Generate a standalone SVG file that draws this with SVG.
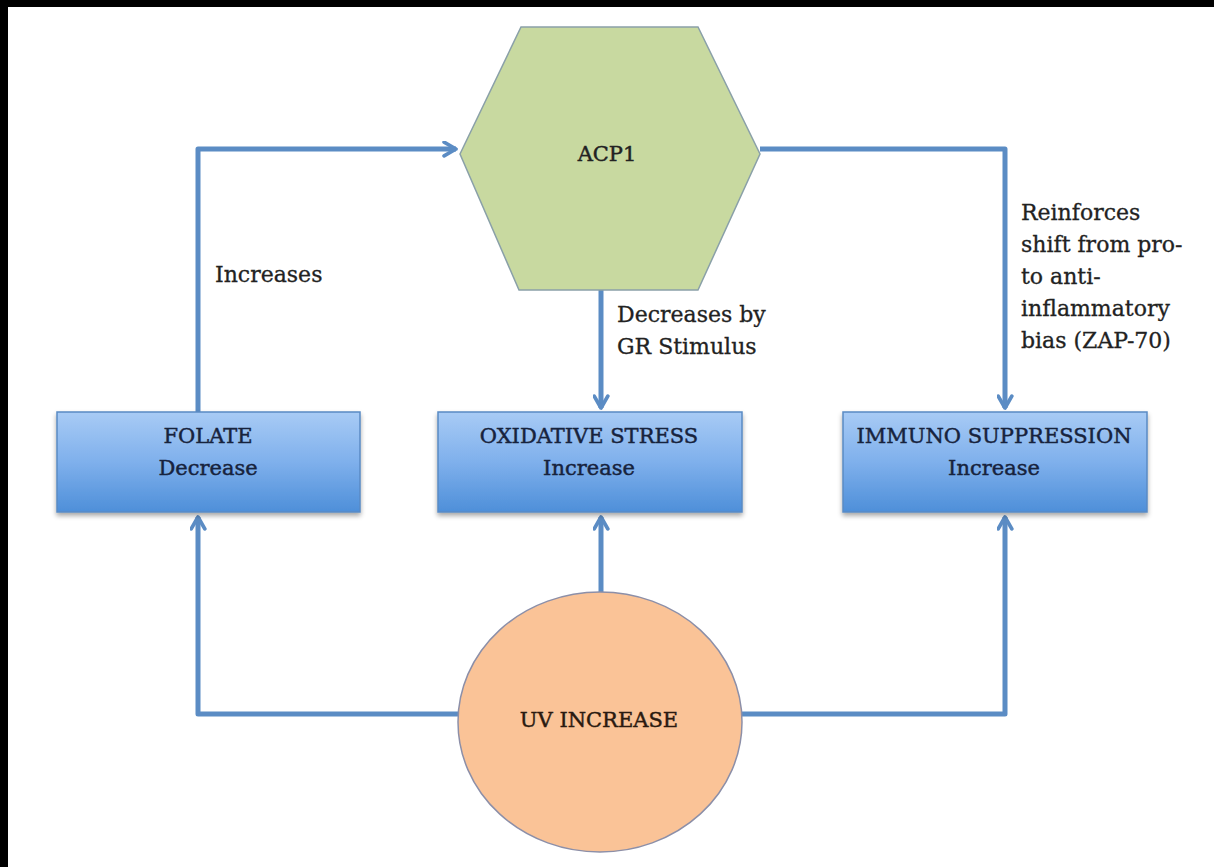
<svg xmlns="http://www.w3.org/2000/svg" width="1214" height="867" viewBox="0 0 1214 867">
  <defs>
    <linearGradient id="boxGrad" x1="0" y1="0" x2="0" y2="1">
      <stop offset="0" stop-color="#a8cbf5"/>
      <stop offset="0.5" stop-color="#7fb0ec"/>
      <stop offset="1" stop-color="#4e8fd9"/>
    </linearGradient>
    <filter id="shadow" x="-10%" y="-10%" width="120%" height="130%">
      <feGaussianBlur in="SourceAlpha" stdDeviation="2.5"/>
      <feOffset dx="0" dy="3" result="b"/>
      <feComponentTransfer><feFuncA type="linear" slope="0.35"/></feComponentTransfer>
      <feMerge><feMergeNode/><feMergeNode in="SourceGraphic"/></feMerge>
    </filter>
    <marker id="arrow" viewBox="0 0 10 10" refX="8" refY="5" markerWidth="3.4" markerHeight="3.4" orient="auto" markerUnits="strokeWidth">
      <path d="M1,1 L8,5 L1,9" fill="none" stroke="#5b8cc4" stroke-width="2.2" stroke-linecap="round" stroke-linejoin="round"/>
    </marker>
  </defs>
  <style>
    .conn { fill: none; stroke: #5b8cc4; stroke-width: 5; stroke-linejoin: round; }
    .box { fill: url(#boxGrad); stroke: #5a8ac4; stroke-width: 1.5; }
    .boxtxt { font-family: "DejaVu Serif", "Liberation Serif", serif; font-size: 21px; fill: #17233d; stroke: #17233d; stroke-width: 0.45; text-anchor: middle; }
    .lbl { font-family: "DejaVu Serif", "Liberation Serif", serif; font-size: 22px; fill: #222222; stroke: #222222; stroke-width: 0.3; }
  </style>
  <rect x="0" y="0" width="1214" height="867" fill="#ffffff"/>
  <rect x="0" y="0" width="1214" height="7" fill="#000000"/>
  <rect x="0" y="0" width="8" height="867" fill="#000000"/>

  <g id="connectors">
    <path class="conn" d="M198,412 L198,149 L456,149" marker-end="url(#arrow)"/>
    <path class="conn" d="M760,149 L1005,149 L1005,408" marker-end="url(#arrow)"/>
    <path class="conn" d="M601,290 L601,408" marker-end="url(#arrow)"/>
    <path class="conn" d="M601,592 L601,517" marker-end="url(#arrow)"/>
    <path class="conn" d="M458,714 L198,714 L198,517" marker-end="url(#arrow)"/>
    <path class="conn" d="M742,714 L1005,714 L1005,517" marker-end="url(#arrow)"/>
  </g>

  <g id="acp1">
    <polygon points="460,154 521,27 698,27 760,154 698,290 519,290" fill="#c8d9a0" stroke="#8aa0a8" stroke-width="1.5"/>
    <text class="boxtxt" x="607" y="161" style="fill:#222222;stroke:#222222">ACP1</text>
  </g>

  <g id="folate">
    <rect class="box" x="57" y="412" width="303" height="100" filter="url(#shadow)"/>
    <text class="boxtxt" x="208" y="443">FOLATE</text>
    <text class="boxtxt" x="208" y="475">Decrease</text>
  </g>

  <g id="oxidative">
    <rect class="box" x="438" y="412" width="304" height="100" filter="url(#shadow)"/>
    <text class="boxtxt" x="589" y="443">OXIDATIVE STRESS</text>
    <text class="boxtxt" x="589" y="475">Increase</text>
  </g>

  <g id="immuno">
    <rect class="box" x="843" y="412" width="304" height="100" filter="url(#shadow)"/>
    <text class="boxtxt" x="994" y="443">IMMUNO SUPPRESSION</text>
    <text class="boxtxt" x="994" y="475">Increase</text>
  </g>

  <g id="uv">
    <ellipse cx="600" cy="722" rx="142" ry="130" fill="#fac397" stroke="#8c8fa8" stroke-width="1.5"/>
    <text class="boxtxt" x="599" y="727" style="fill:#2a1a10;stroke:#2a1a10">UV INCREASE</text>
  </g>

  <g id="labels">
    <text class="lbl" x="215" y="282">Increases</text>
    <text class="lbl" x="617" y="322">Decreases by</text>
    <text class="lbl" x="617" y="354">GR Stimulus</text>
    <text class="lbl" x="1021" y="220">Reinforces</text>
    <text class="lbl" x="1021" y="252">shift from pro-</text>
    <text class="lbl" x="1021" y="284">to anti-</text>
    <text class="lbl" x="1021" y="316">inflammatory</text>
    <text class="lbl" x="1021" y="348">bias (ZAP-70)</text>
  </g>
</svg>
